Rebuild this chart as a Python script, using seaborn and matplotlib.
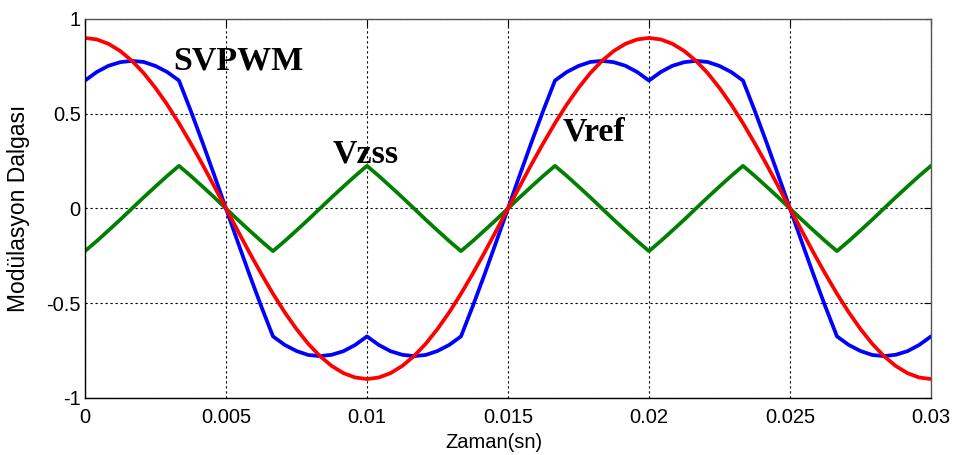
import numpy as np
import pandas as pd
import seaborn as sns
import matplotlib.pyplot as plt

# time samples, 0 .. 0.03 s
zaman = np.linspace(0, 0.03, 73)

vref = [
    0.900, 0.892, 0.869, 0.831, 0.779, 0.714, 0.636, 0.548, 0.450, 0.344, 0.233, 0.117, 0.000,
    -0.117, -0.233, -0.344, -0.450, -0.548, -0.636, -0.714, -0.779, -0.831, -0.869, -0.892, -0.900,
    -0.892, -0.869, -0.831, -0.779, -0.714, -0.636, -0.548, -0.450, -0.344, -0.233, -0.117, 0.000,
    0.117, 0.233, 0.344, 0.450, 0.548, 0.636, 0.714, 0.779, 0.831, 0.869, 0.892, 0.900,
    0.892, 0.869, 0.831, 0.779, 0.714, 0.636, 0.548, 0.450, 0.344, 0.233, 0.117, 0.000,
    -0.117, -0.233, -0.344, -0.450, -0.548, -0.636, -0.714, -0.779, -0.831, -0.869, -0.892, -0.900,
]

vzss = [
    -0.225, -0.172, -0.116, -0.059, 0.000, 0.059, 0.116, 0.172, 0.225, 0.172, 0.116, 0.059, 0.000, -0.059, -0.116, -0.172,
    -0.225, -0.172, -0.116, -0.059, 0.000, 0.059, 0.116, 0.172, 0.225, 0.172, 0.116, 0.059, 0.000, -0.059, -0.116, -0.172,
    -0.225, -0.172, -0.116, -0.059, 0.000, 0.059, 0.116, 0.172, 0.225, 0.172, 0.116, 0.059, 0.000, -0.059, -0.116, -0.172,
    -0.225, -0.172, -0.116, -0.059, 0.000, 0.059, 0.116, 0.172, 0.225, 0.172, 0.116, 0.059, 0.000, -0.059, -0.116, -0.172,
    -0.225, -0.172, -0.116, -0.059, 0.000, 0.059, 0.116, 0.172, 0.225,
]

svpwm = [
    0.675, 0.720, 0.753, 0.772, 0.779, 0.773, 0.752, 0.720, 0.675, 0.516, 0.349, 0.176, 0.000,
    -0.176, -0.349, -0.516, -0.675, -0.720, -0.752, -0.773, -0.779, -0.772, -0.753, -0.720, -0.675,
    -0.720, -0.753, -0.772, -0.779, -0.773, -0.752, -0.720, -0.675, -0.516, -0.349, -0.176, 0.000,
    0.176, 0.349, 0.516, 0.675, 0.720, 0.752, 0.773, 0.779, 0.772, 0.753, 0.720, 0.675,
    0.720, 0.753, 0.772, 0.779, 0.773, 0.752, 0.720, 0.675, 0.516, 0.349, 0.176, 0.000,
    -0.176, -0.349, -0.516, -0.675, -0.720, -0.752, -0.773, -0.779, -0.772, -0.753, -0.720, -0.675,
]

x_ticks = [0, 0.005, 0.01, 0.015, 0.02, 0.025, 0.03]
x_tick_labels = ['0', '0.005', '0.01', '0.015', '0.02', '0.025', '0.03']
y_ticks = [-1, -0.5, 0, 0.5, 1]
y_tick_labels = ['-1', '-0.5', '0', '0.5', '1']

sns.set_style('white')
plt.rcParams['font.family'] = ['Liberation Sans', 'DejaVu Sans']
plt.rcParams['text.color'] = 'black'
plt.rcParams['axes.labelcolor'] = 'black'

df = pd.concat([
    pd.DataFrame({'t': zaman, 'v': vzss, 'seri': 'Vzss'}),
    pd.DataFrame({'t': zaman, 'v': svpwm, 'seri': 'SVPWM'}),
    pd.DataFrame({'t': zaman, 'v': vref, 'seri': 'Vref'}),
])

fig = plt.figure(figsize=(9.58, 4.55), dpi=100)
ax = fig.add_axes([0.0887, 0.1253, 0.8831, 0.833])

sns.lineplot(
    data=df, x='t', y='v', hue='seri',
    hue_order=['Vzss', 'SVPWM', 'Vref'],
    palette={'Vzss': '#008000', 'SVPWM': '#0000ff', 'Vref': '#ff0000'},
    estimator=None, sort=False, linewidth=2.7, legend=False, ax=ax,
)

ax.set_xlim(0, 0.03)
ax.set_ylim(-1, 1)
ax.set_xticks(x_ticks)
ax.set_xticklabels(x_tick_labels)
ax.set_yticks(y_ticks)
ax.set_yticklabels(y_tick_labels)
ax.tick_params(direction='in', top=True, right=True, length=5, width=0.8,
               labelsize=14.5, colors='black')
ax.tick_params(axis='x', pad=7)
ax.tick_params(axis='y', pad=3)

ax.grid(True, color='black', linestyle=(0, (2, 2.5)), linewidth=0.8)
ax.set_axisbelow(True)
for side in ['left', 'bottom']:
    ax.spines[side].set_color('black')
for side in ['top', 'right']:
    ax.spines[side].set_color('#555555')
for s in ax.spines.values():
    s.set_linewidth(1.0)

ax.set_xlabel('Zaman(sn)', fontsize=14.5)
ax.set_ylabel('Modülasyon Dalgası', fontsize=16.5)
ax.xaxis.set_label_coords(0.4835, -0.092)
ax.yaxis.set_label_coords(-0.065, 0.5)

serif = ['Liberation Serif', 'DejaVu Serif']
ax.text(0.00312, 0.731, 'SVPWM', family=serif, fontweight='bold', fontsize=24.5, va='baseline')
ax.text(0.00879, 0.245, 'Vzss', family=serif, fontweight='bold', fontsize=24.5, va='baseline')
ax.text(0.01695, 0.361, 'Vref', family=serif, fontweight='bold', fontsize=24.5, va='baseline')

plt.savefig('out.png', dpi=100)
plt.close()
